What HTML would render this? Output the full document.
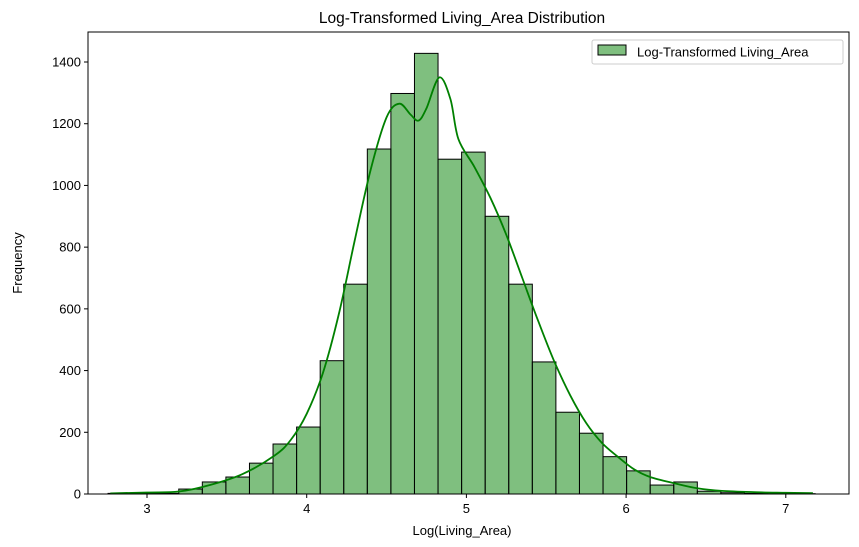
<!DOCTYPE html>
<html><head><meta charset="utf-8"><style>
body{margin:0;background:#fff;}
svg{display:block;font-family:"Liberation Sans","DejaVu Sans",sans-serif;}
</style></head><body>
<svg id="chart" width="859" height="547" viewBox="0 0 859 547"></svg>
<script>
const binStart = 2.756;
const binWidth = 0.1476;
const counts = [2,3,2,16,39,55,100,162,217,432,680,1118,1298,1428,1085,1108,900,680,428,265,197,121,75,29,39,9,4,2,1,1];
const kdeX = [2.77,3.0,3.2,3.4,3.6,3.8,3.9,4.0,4.1,4.2,4.3,4.4,4.5,4.58,4.65,4.7,4.75,4.83,4.9,4.95,5.05,5.15,5.25,5.35,5.45,5.55,5.65,5.75,5.85,5.95,6.05,6.15,6.3,6.45,6.6,6.8,7.0,7.17];
const kdeY = [2,5,8,30,65,125,175,260,390,580,820,1050,1220,1265,1230,1210,1250,1350,1280,1150,1060,960,840,700,560,430,320,230,165,120,80,55,35,18,10,6,4,3];
const xTicks = [3,4,5,6,7];
const yTicks = [0,200,400,600,800,1000,1200,1400];

const L=88,R=849,T=32,B=494;
const xs = v => 147 + (v-3)*159.7;
const ys = v => 494 - v*0.30857;
const NS="http://www.w3.org/2000/svg";
const svg=document.getElementById('chart');
function mk(tag,attrs,parent){const e=document.createElementNS(NS,tag);for(const k in attrs)e.setAttribute(k,attrs[k]);(parent||svg).appendChild(e);return e;}

const bars=mk('g',{});


counts.forEach((c,i)=>{
  const x0=xs(binStart+i*binWidth), x1=xs(binStart+(i+1)*binWidth);
  const r=mk('rect',{x:x0,y:ys(c),width:x1-x0,height:ys(0)-ys(c),fill:'rgba(0,128,0,0.5)',stroke:'#000','stroke-width':1},bars);
  
  
});
const pts=kdeX.map((x,i)=>[xs(x),ys(kdeY[i])]);
let d='M'+pts[0][0].toFixed(1)+','+pts[0][1].toFixed(1);
for(let i=0;i<pts.length-1;i++){
  const p0=pts[Math.max(0,i-1)],p1=pts[i],p2=pts[i+1],p3=pts[Math.min(pts.length-1,i+2)];
  const c1=[p1[0]+(p2[0]-p0[0])/6,p1[1]+(p2[1]-p0[1])/6];
  const c2=[p2[0]-(p3[0]-p1[0])/6,p2[1]-(p3[1]-p1[1])/6];
  d+='C'+c1.map(v=>v.toFixed(1)).join(',')+' '+c2.map(v=>v.toFixed(1)).join(',')+' '+p2.map(v=>v.toFixed(1)).join(',');
}
const kde=mk('path',{d:d,fill:'none',stroke:'#008000','stroke-width':1.8,'stroke-linejoin':'round'});



const frame=mk('rect',{x:L,y:T,width:R-L,height:B-T,fill:'none',stroke:'#000','stroke-width':1});



xTicks.forEach(v=>{
  mk('line',{x1:xs(v),x2:xs(v),y1:B,y2:B+4,stroke:'#000'});
  const t=mk('text',{x:xs(v),y:B+19,'font-size':13,'text-anchor':'middle'});t.textContent=v;
  
  
});
yTicks.forEach(v=>{
  mk('line',{x1:L-4,x2:L,y1:ys(v),y2:ys(v),stroke:'#000'});
  const t=mk('text',{x:L-7,y:ys(v)+4.5,'font-size':13,'text-anchor':'end'});t.textContent=v;
  
  
});
</script>
<div style="position:absolute;left:0;top:0;width:859px;height:547px;pointer-events:none">
<svg width="859" height="547" style="font-family:'Liberation Sans','DejaVu Sans',sans-serif">
<text x="462" y="23" font-size="15.5" text-anchor="middle">Log-Transformed Living_Area Distribution</text>
<text x="462" y="535" font-size="13" text-anchor="middle">Log(Living_Area)</text>
<text transform="translate(22,263) rotate(-90)" font-size="13" text-anchor="middle">Frequency</text>
<g>
<rect x="592" y="40" width="251" height="24" rx="2" fill="#fff" fill-opacity="0.8" stroke="#ccc"/>
<rect x="598" y="45" width="28" height="10" fill="rgba(0,128,0,0.5)" stroke="#000"/>
<text x="637" y="56.5" font-size="13">Log-Transformed Living_Area</text>
</g>
</svg>
</div>
</body></html>
